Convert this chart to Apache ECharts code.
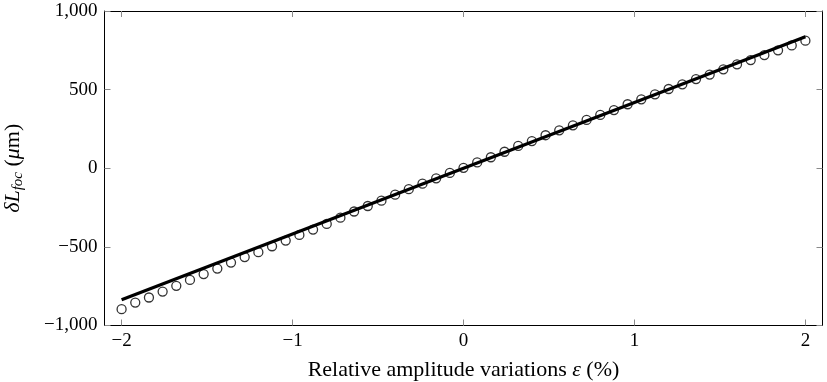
<!DOCTYPE html>
<html>
<head>
<meta charset="utf-8">
<script src="https://cdn.jsdelivr.net/npm/echarts@6/dist/echarts.min.js"></script>
<style>
  html, body { margin: 0; padding: 0; background: #fff; }
  #main { width: 827px; height: 382px; }
</style>
</head>
<body>
<div id="main"></div>
<script>
// valeurs
var xTicks = [-2, -1, 0, 1, 2];
var yTicks = [-1000, -500, 0, 500, 1000];

// mesures (cercles), epsilon de -2 a 2 par pas de 0.08
var epsMeas = [-2.00, -1.92, -1.84, -1.76, -1.68, -1.60, -1.52, -1.44, -1.36, -1.28,
               -1.20, -1.12, -1.04, -0.96, -0.88, -0.80, -0.72, -0.64, -0.56, -0.48,
               -0.40, -0.32, -0.24, -0.16, -0.08, 0.00, 0.08, 0.16, 0.24, 0.32,
               0.40, 0.48, 0.56, 0.64, 0.72, 0.80, 0.88, 0.96, 1.04, 1.12,
               1.20, 1.28, 1.36, 1.44, 1.52, 1.60, 1.68, 1.76, 1.84, 1.92, 2.00];
var dLMeas = [-896, -854, -822, -784, -748, -710, -673, -638, -600, -565,
              -534, -496, -460, -424, -390, -354, -314, -275, -240, -206,
              -168, -133, -98, -64, -30, 3, 37, 70, 105, 142,
              173, 210, 241, 273, 307, 339, 370, 407, 438, 470,
              504, 534, 567, 596, 629, 661, 688, 720, 750, 781, 811];

// droite (modele lineaire)
var epsFit = [-2, 2];
var dLFit = [-836, 836];

function zip(xs, ys) {
    var out = [];
    for (var i = 0; i < xs.length; i++) out.push([xs[i], ys[i]]);
    return out;
}

function fmtNum(v) {
    var s = Math.abs(v).toString().replace(/\B(?=(\d{3})+(?!\d))/g, ',');
    return (v < 0 ? '\u2212' : '') + s;
}

var serif = '"Liberation Serif", "DejaVu Serif", serif';
var tickStyle = { show: true, inside: true, length: 6, lineStyle: { color: '#8a8a8a', width: 1 } };

var myChart = echarts.init(document.getElementById('main'));
var option = {
    animation: false,
    backgroundColor: '#fff',
    grid: { left: 104.5, right: 4.5, top: 11, bottom: 56.5, containLabel: false, outerBoundsMode: 'none' },
    xAxis: [
        {
            type: 'value',
            min: -2.1,
            max: 2.1,
            position: 'bottom',
            splitLine: { show: false },
            axisLine: { show: true, onZero: false, lineStyle: { color: '#000', width: 1 } },
            axisTick: Object.assign({ customValues: xTicks }, tickStyle),
            axisLabel: {
                customValues: xTicks,
                color: '#000',
                fontFamily: serif,
                fontSize: 19,
                margin: 6,
                formatter: fmtNum
            },
            name: '{n|Relative amplitude variations }{i|\u03b5}{n| (%)}',
            nameLocation: 'middle',
            nameGap: 34,
            nameTextStyle: {
                rich: {
                    n: { fontFamily: serif, fontSize: 22, color: '#000' },
                    i: { fontFamily: serif, fontSize: 22, fontStyle: 'italic', color: '#000' }
                }
            }
        },
        {
            type: 'value',
            min: -2.1,
            max: 2.1,
            position: 'top',
            splitLine: { show: false },
            axisLine: { show: true, onZero: false, lineStyle: { color: '#000', width: 1 } },
            axisTick: Object.assign({ customValues: xTicks }, tickStyle),
            axisLabel: { show: false }
        }
    ],
    yAxis: [
        {
            type: 'value',
            min: -1000,
            max: 1000,
            interval: 500,
            position: 'left',
            splitLine: { show: false },
            axisLine: { show: true, onZero: false, lineStyle: { color: '#000', width: 1 } },
            axisTick: tickStyle,
            axisLabel: {
                color: '#000',
                fontFamily: serif,
                fontSize: 19,
                margin: 7,
                formatter: fmtNum
            },
            name: '{i|\u03b4L}{s|foc}{n| (}{i|\u03bc}{n|m)}',
            nameLocation: 'middle',
            nameGap: 79,
            nameRotate: 90,
            nameTextStyle: {
                rich: {
                    n: { fontFamily: serif, fontSize: 22, color: '#000' },
                    i: { fontFamily: serif, fontSize: 22, fontStyle: 'italic', color: '#000' },
                    s: { fontFamily: serif, fontSize: 15, fontStyle: 'italic', color: '#000',
                         verticalAlign: 'bottom', padding: [9, 0, 0, 0] }
                }
            }
        },
        {
            type: 'value',
            min: -1000,
            max: 1000,
            interval: 500,
            position: 'right',
            splitLine: { show: false },
            axisLine: { show: true, onZero: false, lineStyle: { color: '#000', width: 1 } },
            axisTick: tickStyle,
            axisLabel: { show: false }
        }
    ],
    series: [
        {
            type: 'scatter',
            data: zip(epsMeas, dLMeas),
            symbol: 'circle',
            symbolSize: 9,
            itemStyle: { color: 'rgba(255,255,255,0)', borderColor: '#000', borderWidth: 1.3 },
            z: 2
        },
        {
            type: 'line',
            data: zip(epsFit, dLFit),
            showSymbol: false,
            lineStyle: { color: '#000', width: 3.2 },
            z: 3
        }
    ]
};
myChart.setOption(option);
</script>
</body>
</html>
